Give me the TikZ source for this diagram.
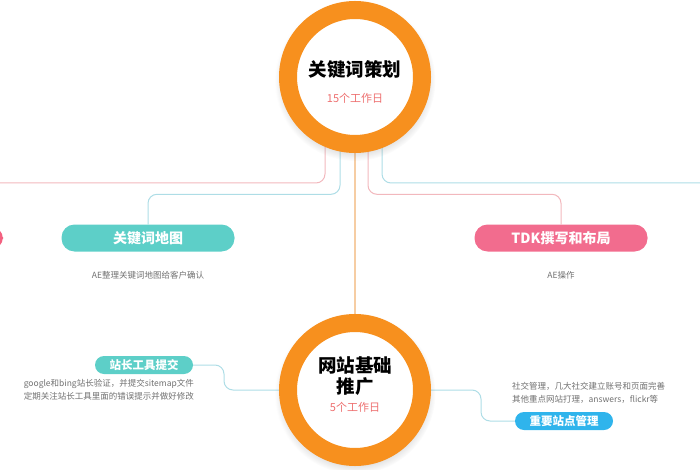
\documentclass[tikz,border=0pt]{standalone}
\usepackage{fontspec}
\setmainfont{Noto Sans CJK SC}
\usetikzlibrary{shapes,shadows,backgrounds}

\definecolor{ringorange}{HTML}{F7901E}
\definecolor{redline}{HTML}{F2B8BD}
\definecolor{blueline}{HTML}{AEDDE6}
\definecolor{midline}{HTML}{F6CDA3}
\definecolor{tealbox}{HTML}{5DCFC8}
\definecolor{pinkbox}{HTML}{F26C8E}
\definecolor{skybox}{HTML}{2FB4EC}
\definecolor{daystext}{HTML}{EE7070}
\definecolor{notetext}{HTML}{707070}

\begin{document}
\begin{tikzpicture}[x=1pt, y=-1pt,
    ring/.style={circle, draw=ringorange, line width=18pt, fill=white, minimum size=134pt,
        circular drop shadow={shadow xshift=0pt, shadow yshift=-3pt, shadow scale=1.2, opacity=.3}},
    title/.style={font=\fontsize{18.5}{21}\selectfont\bfseries, text=black, align=center},
    days/.style={font=\fontsize{11}{12}\selectfont, text=daystext},
    bigpill/.style={rectangle, rounded corners=13pt, minimum width=173pt, minimum height=27pt,
        inner sep=0pt, text=white, font=\fontsize{14}{15}\selectfont\bfseries},
    smallpill/.style={rectangle, rounded corners=9pt, minimum width=98pt, minimum height=18pt,
        inner sep=0pt, text=white, font=\fontsize{11.5}{13}\selectfont\bfseries},
    note/.style={text=notetext, inner sep=0pt, font=\fontsize{8.5}{13.5}\selectfont},
    link/.style={line width=1pt, rounded corners=9pt}]

    \path [use as bounding box, clip] (0,0) rectangle (700,470);

    \node (topring) [ring] at (355,77) {};
    \node (toptitle) [title] at (355,70) {关键词策划};
    \node (topdays) [days] at (355,98) {15个工作日};

    \node (botring) [ring] at (355,390) {};
    \node (bottitle) [title] at (355,376) {网站基础\\推广};
    \node (botdays) [days] at (355,407) {5个工作日};

    \node (leftpill) [bigpill, fill=pinkbox!90!red, minimum width=60pt, minimum height=24pt] at (-27,238) {};

    \node (kwmap) [bigpill, fill=tealbox] at (148,238) {关键词地图};
    \node (kwnote) [note] at (148,275) {AE整理关键词地图给客户确认};

    \node (tdk) [bigpill, fill=pinkbox] at (561,238) {TDK撰写和布局};
    \node (tdknote) [note] at (561,275) {AE操作};

    \node (webtool) [smallpill, fill=tealbox] at (144,365) {站长工具提交};
    \node (toolnote) [note, anchor=north east, align=right] at (194,379)
        {google和bing站长验证，并提交sitemap文件\\定期关注站长工具里面的错误提示并做好修改};

    \node (sitemgmt) [smallpill, fill=skybox] at (564,421) {重要站点管理};
    \node (sitenote) [note, anchor=north west, align=left] at (512,382)
        {社交管理，几大社交建立账号和页面完善\\其他重点网站打理，answers，flickr等};

    \coordinate (leftend) at (0,183);
    \coordinate (rightend) at (700,183);
    \coordinate (toolbend) at (224,390);
    \coordinate (sitebend) at (481,390);

    \begin{pgfonlayer}{background}
        \draw [link, redline] ([xshift=-30pt]topring.center) |- (leftend);
        \draw [link, blueline] ([xshift=-15pt]topring.center) |- ([yshift=30pt]kwmap.north) -- (kwmap.north);
        \draw [link, midline, line width=1.3pt] (topring.center) -- (botring.center);
        \draw [link, redline] ([xshift=13pt]topring.center) |- ([yshift=30pt]tdk.north) -- (tdk.north);
        \draw [link, blueline] ([xshift=27pt]topring.center) |- (rightend);

        \draw [link, blueline] (webtool.east) -| (toolbend) -- (botring.center);
        \draw [link, blueline] (botring.center) -- (sitebend) |- (sitemgmt.west);
    \end{pgfonlayer}
\end{tikzpicture}
\end{document}
